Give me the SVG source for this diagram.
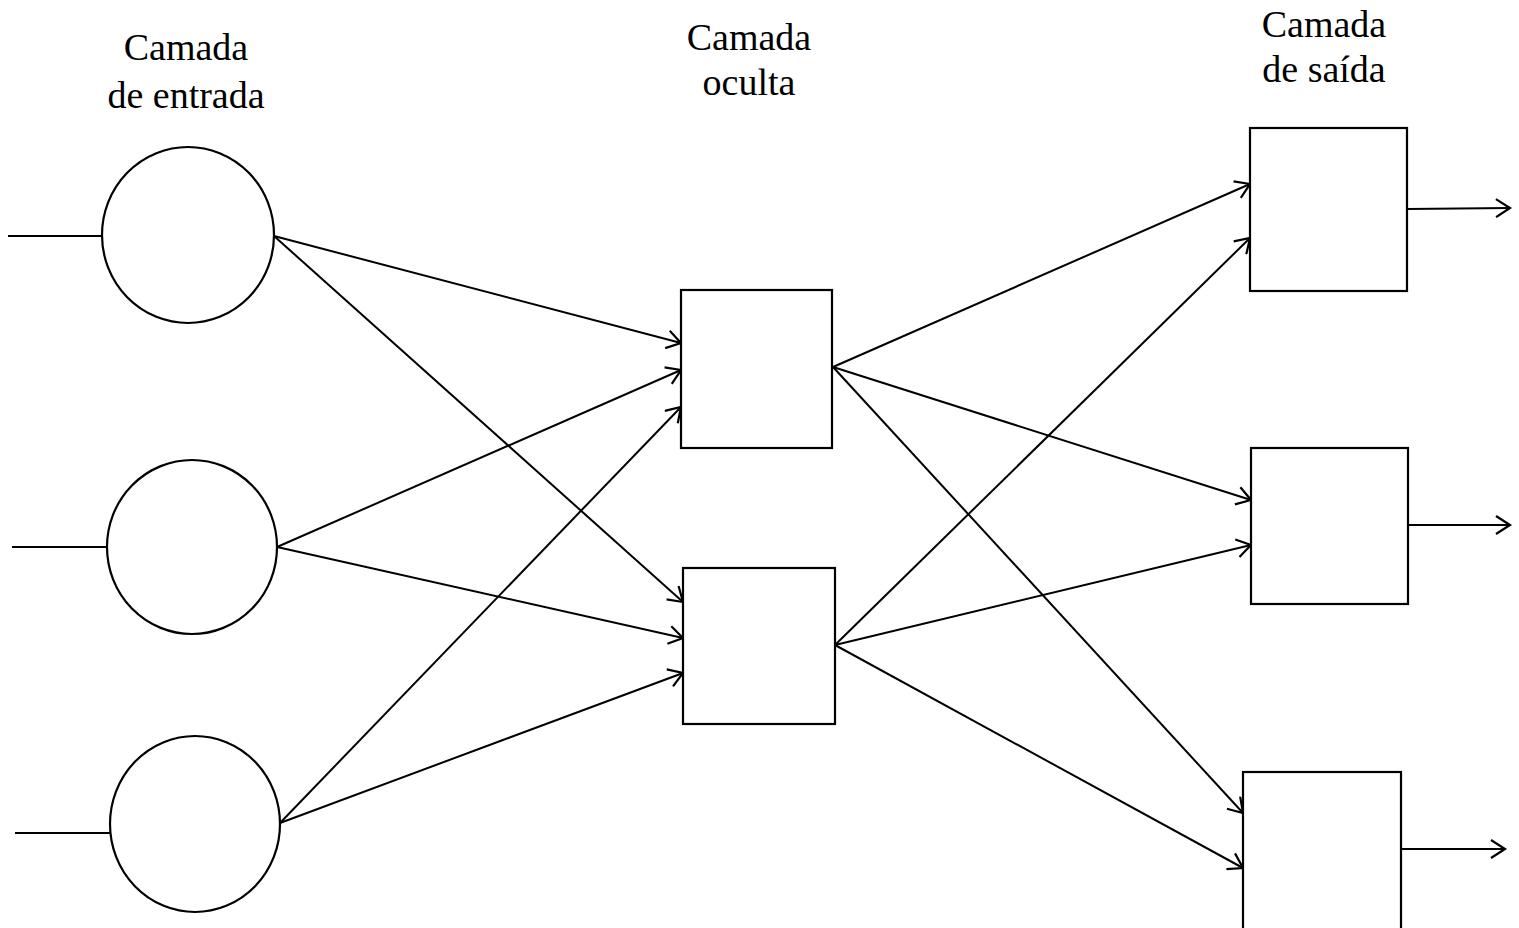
<svg xmlns="http://www.w3.org/2000/svg" width="1519" height="928" viewBox="0 0 1519 928">
  <style>
    .node { fill: #fff; stroke: #000; stroke-width: 2.2; }
    .wire { stroke: #000; stroke-width: 2; fill: none; }
    .arrow { marker-end: url(#head); }
    .label { font-family: "Liberation Serif", "Times New Roman", serif; font-size: 38px; fill: #000; text-anchor: middle; }
  </style>
  <defs>
    <marker id="head" markerUnits="userSpaceOnUse" markerWidth="18" markerHeight="20" refX="15" refY="10" orient="auto">
      <path d="M1,1 L15,10 L1,19" fill="none" stroke="#000" stroke-width="2.2"/>
    </marker>
  </defs>
  <rect width="1519" height="928" fill="#fff"/>

  <!-- layer titles -->
  <g id="titles">
    <text class="label" x="186" y="60">Camada</text>
    <text class="label" x="186" y="108">de entrada</text>
    <text class="label" x="749" y="50">Camada</text>
    <text class="label" x="749" y="95">oculta</text>
    <text class="label" x="1324" y="37">Camada</text>
    <text class="label" x="1324" y="82">de saída</text>
  </g>

  <!-- connectors -->
  <g id="connectors">
    <!-- external inputs -->
    <line class="wire" x1="8" y1="236" x2="102" y2="236"/>
    <line class="wire" x1="12" y1="547" x2="107" y2="547"/>
    <line class="wire" x1="15" y1="833" x2="110" y2="833"/>
    <!-- input layer to hidden layer -->
    <line class="wire arrow" x1="274" y1="236" x2="681" y2="343"/>
    <line class="wire arrow" x1="274" y1="236" x2="683" y2="602"/>
    <line class="wire arrow" x1="277" y1="547" x2="681" y2="370"/>
    <line class="wire arrow" x1="277" y1="547" x2="683" y2="638"/>
    <line class="wire arrow" x1="280" y1="823" x2="681" y2="407"/>
    <line class="wire arrow" x1="280" y1="823" x2="683" y2="673"/>
    <!-- hidden layer to output layer -->
    <line class="wire arrow" x1="833" y1="367" x2="1250" y2="184"/>
    <line class="wire arrow" x1="833" y1="367" x2="1251" y2="500"/>
    <line class="wire arrow" x1="833" y1="367" x2="1243" y2="813"/>
    <line class="wire arrow" x1="835" y1="645" x2="1250" y2="238"/>
    <line class="wire arrow" x1="835" y1="645" x2="1251" y2="545"/>
    <line class="wire arrow" x1="835" y1="645" x2="1243" y2="868"/>
    <!-- external outputs -->
    <line class="wire arrow" x1="1407" y1="209" x2="1510" y2="208"/>
    <line class="wire arrow" x1="1408" y1="525" x2="1510" y2="525"/>
    <line class="wire arrow" x1="1401" y1="849" x2="1505" y2="849"/>
  </g>

  <!-- input layer -->
  <g id="in1"><ellipse class="node" cx="188" cy="235" rx="86" ry="88"/></g>
  <g id="in2"><ellipse class="node" cx="192" cy="547" rx="85" ry="87"/></g>
  <g id="in3"><ellipse class="node" cx="195" cy="824" rx="85" ry="88"/></g>

  <!-- hidden layer -->
  <g id="hid1"><rect class="node" x="681" y="290" width="151" height="158"/></g>
  <g id="hid2"><rect class="node" x="683" y="568" width="152" height="156"/></g>

  <!-- output layer -->
  <g id="out1"><rect class="node" x="1250" y="128" width="157" height="163"/></g>
  <g id="out2"><rect class="node" x="1251" y="448" width="157" height="156"/></g>
  <g id="out3"><rect class="node" x="1243" y="772" width="158" height="170"/></g>
</svg>
